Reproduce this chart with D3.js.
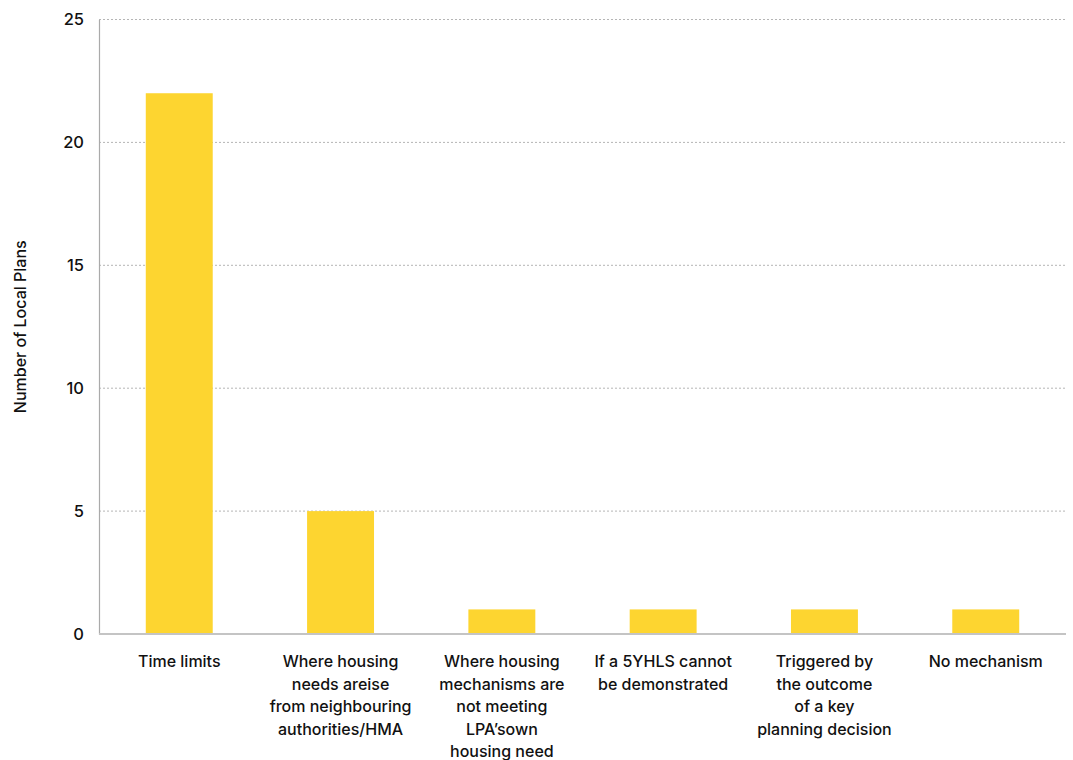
<!DOCTYPE html>
<html><head><meta charset="utf-8">
<script src="https://cdn.jsdelivr.net/npm/d3@7"></script>
<style>body{margin:0;background:#fff;font-family:Inter,"Noto Sans",sans-serif;}</style>
</head><body><svg id="c" width="1073" height="760"></svg>
<script>
const categories = [
  ["Time limits"],
  ["Where housing","needs areise","from neighbouring","authorities/HMA"],
  ["Where housing","mechanisms are","not meeting","LPA\u2019sown","housing need"],
  ["If a 5YHLS cannot","be demonstrated"],
  ["Triggered by","the outcome","of a key","planning decision"],
  ["No mechanism"]
];
const values = [22, 5, 1, 1, 1, 1];
const yTicks = [0, 5, 10, 15, 20, 25];

const svg = d3.select("#c");
const m = {l:99, r:7, t:19.5, b:126};
const W = 1073, H = 760;
const x = d3.scaleBand().domain(d3.range(categories.length)).range([m.l, W-m.r]).paddingInner(0.585).paddingOuter(0.29);
const y = d3.scaleLinear().domain([0,25]).range([H-m.b, m.t]);

// grid
svg.append("g").selectAll("line").data(yTicks.filter(d=>d>0)).join("line")
  .attr("x1", m.l).attr("x2", W-m.r)
  .attr("y1", d=>y(d)).attr("y2", d=>y(d))
  .attr("stroke","#b5b5b5").attr("stroke-width",1).attr("stroke-dasharray","2,2");

// bars
svg.append("g").selectAll("rect").data(values).join("rect")
  .attr("x",(d,i)=>x(i)).attr("width",x.bandwidth())
  .attr("y",d=>y(d)).attr("height",d=>y(0)-y(d))
  .attr("fill","#fdd530");

// y axis
const ya = d3.axisLeft(y).tickValues(yTicks).tickSize(0).tickPadding(15);
const gy = svg.append("g").attr("transform",`translate(${m.l},0)`).call(ya);
gy.select(".domain").attr("stroke","#aaa").attr("stroke-width",1.2);
gy.selectAll("text").attr("font-size",16.5).attr("font-weight",500).attr("fill","#111").attr("font-family","Inter,sans-serif");

// bottom axis line
svg.append("line").attr("x1",m.l).attr("x2",W-m.r).attr("y1",y(0)).attr("y2",y(0))
  .attr("stroke","#c4c4c4").attr("stroke-width",2);

// category labels
const xa = d3.axisBottom(x).tickSize(0).tickFormat("");
const gx = svg.append("g").attr("transform",`translate(0,${y(0)})`).call(xa);
gx.select(".domain").remove();
gx.selectAll(".tick").each(function(d){
  const t = d3.select(this).append("text").attr("text-anchor","middle")
    .attr("font-size",16).attr("font-weight",500).attr("fill","#111").attr("font-family","Inter,sans-serif");
  categories[d].forEach((ln,k)=>{
    t.append("tspan").attr("x",0).attr("y",33+k*22.5).text(ln);
  });
});

// y title
svg.append("text").attr("transform",`translate(26,${(m.t+y(0))/2}) rotate(-90)`)
  .attr("text-anchor","middle").attr("font-size",16).attr("font-weight",500).attr("fill","#111")
  .attr("font-family","Inter,sans-serif").text("Number of Local Plans");
</script></body></html>
